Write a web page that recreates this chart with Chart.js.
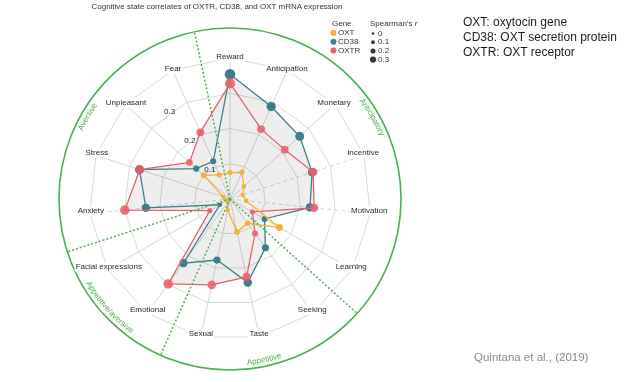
<!DOCTYPE html>
<html><head><meta charset="utf-8">
<script src="https://cdn.jsdelivr.net/npm/chart.js@4/dist/chart.umd.min.js"></script>
<style>
html,body{margin:0;padding:0;background:#fff;width:634px;height:382px;overflow:hidden;}
#wrap{position:relative;width:634px;height:382px;}
canvas{position:absolute;left:0;top:0;}
.txt{position:absolute;font-family:"Liberation Sans",Arial,sans-serif;white-space:nowrap;}
</style></head>
<body>
<div id="wrap">
<canvas id="c" width="634" height="382"></canvas>
<div class="txt" style="left:0;width:434px;text-align:center;top:2px;font-size:8px;line-height:10px;color:#333;">Cognitive state correlates of OXTR, CD38, and OXT mRNA expression</div>
<div class="txt" style="left:463px;top:15px;font-size:12px;line-height:15px;color:#1e1e1e;">OXT: oxytocin gene<br>CD38: OXT secretion protein<br>OXTR: OXT receptor</div>
<div class="txt" style="left:474px;top:350px;font-size:11.5px;line-height:14px;color:#8a8a8a;">Quintana et al., (2019)</div>
</div>
<script>
const categories = ["Reward","Anticipation","Monetary","Incentive","Motivation","Learning","Seeking","Taste","Sexual","Emotional","Facial expressions","Anxiety","Stress","Unpleasant","Fear"];
const oxtValues  = [0.075,0.083,0.053,0.038,0.046,0.162,0.085,0.096,0.032,0.010,0.010,0.014,0.020,0.100,0.075];
const cd38Values = [0.354,0.287,0.266,0.245,0.228,0.113,0.171,0.242,0.177,0.225,0.033,0.240,0.270,0.129,0.117];
const oxtrValues = [0.328,0.217,0.209,0.248,0.240,0.073,0.121,0.226,0.249,0.298,0.066,0.300,0.269,0.155,0.207];
const radialTickValues = [0.1,0.2,0.3];
const legendSizeValues = [0,0.1,0.2,0.3];
const sectorNames  = ["Anticipatory","Appetitive","Appetitive/aversive","Aversive"];
const sectorBounds = [-0.5,5.5,8.5,10.5,14.5]; // category-index units
const dashedSpokes = [3,4,11];

const COLORS = {OXT:'#f2b13a', CD38:'#3e7e8b', OXTR:'#e8606c'};
const GREEN = '#4caf50';
const FONT = '"Liberation Sans", Arial, sans-serif';

function ptRadius(v){ return 1.9 + 9.6*Math.abs(v); }
function legRadius(v){ return 1.3 + 6*Math.abs(v); }

function makeDs(label, data, color, ptColor){
  return {label, data, borderColor: color, backgroundColor: color,
    pointBackgroundColor: ptColor||color, pointBorderColor: ptColor||color, pointBorderWidth: 0,
    borderWidth: 1.3, fill: false,
    pointRadius: c => ptRadius(c.raw), pointHoverRadius: c => ptRadius(c.raw)};
}

function idxAngle(f){ return f*2*Math.PI/categories.length - Math.PI/2; }

function arcText(ctx, text, cx, cy, r, ang, flip){
  const total = ctx.measureText(text).width / r;
  let a = flip ? ang + total/2 : ang - total/2;
  for (const ch of text){
    const w = ctx.measureText(ch).width / r;
    const mid = flip ? a - w/2 : a + w/2;
    ctx.save();
    ctx.translate(cx + r*Math.cos(mid), cy + r*Math.sin(mid));
    ctx.rotate(flip ? mid - Math.PI/2 : mid + Math.PI/2);
    ctx.fillText(ch, 0, 0);
    ctx.restore();
    a = flip ? a - w : a + w;
  }
}

const decor = {
  id: 'decor',
  beforeDatasetsDraw(chart){
    const ctx = chart.ctx;
    ctx.save();
    ctx.beginPath();
    [1,2].forEach(di => {
      const pts = chart.getDatasetMeta(di).data;
      pts.forEach((p,i) => i ? ctx.lineTo(p.x,p.y) : ctx.moveTo(p.x,p.y));
      ctx.closePath();
    });
    ctx.fillStyle = 'rgba(0,0,0,0.065)';
    ctx.fill('nonzero');
    ctx.restore();
  },
  afterDatasetsDraw(chart){
    const ctx = chart.ctx, s = chart.scales.r;
    const cx = s.xCenter, cy = s.yCenter, R = s.drawingArea;
    const outerR = R*1.213;
    ctx.save();
    // green dotted dividers
    ctx.strokeStyle = GREEN; ctx.lineWidth = 1.5; ctx.setLineDash([2,2]);
    sectorBounds.slice(1).forEach(b => {
      const a = idxAngle(b);
      ctx.beginPath(); ctx.moveTo(cx,cy); ctx.lineTo(cx+outerR*Math.cos(a), cy+outerR*Math.sin(a)); ctx.stroke();
    });
    ctx.setLineDash([]);
    ctx.lineWidth = 1.6;
    ctx.beginPath(); ctx.arc(cx,cy,outerR,0,Math.PI*2); ctx.stroke();
    // sector labels
    ctx.fillStyle = GREEN; ctx.font = '8px '+FONT; ctx.textAlign='center'; ctx.textBaseline='middle';
    sectorNames.forEach((n,i) => {
      const a = idxAngle((sectorBounds[i]+sectorBounds[i+1])/2);
      const norm = ((a % (2*Math.PI)) + 2*Math.PI) % (2*Math.PI);
      const flip = norm > 0 && norm < Math.PI;
      arcText(ctx, n, cx, cy, outerR - 6.5, a, flip);
    });
    // category labels
    ctx.font = '8px '+FONT; ctx.textAlign='center'; ctx.textBaseline='middle';
    categories.forEach((lab,i) => {
      const p = s.getPointPosition(i, R - 1);
      const w = ctx.measureText(lab).width;
      ctx.fillStyle = '#fff';
      ctx.fillRect(p.x - w/2 - 1, p.y - 2.5 - 5, w + 2, 10);
      ctx.fillStyle = '#2a2a2a';
      ctx.fillText(lab, p.x, p.y - 2.5);
    });
    // radial tick labels
    ctx.font = '8px '+FONT; ctx.fillStyle = '#222';
    radialTickValues.forEach(v => {
      const d = s.getDistanceFromCenterForValue(v);
      const a = idxAngle(13.55);
      ctx.fillText(String(v), cx + d*Math.cos(a), cy + d*Math.sin(a));
    });
    ctx.restore();
  },
  afterDraw(chart){
    const ctx = chart.ctx;
    ctx.save();
    ctx.font = '8px '+FONT; ctx.textBaseline = 'middle'; ctx.textAlign='left';
    ctx.fillStyle = '#333';
    ctx.fillText('Gene', 332, 24);
    ctx.fillText("Spearman's ", 370, 24);
    const sw = ctx.measureText("Spearman's ").width;
    ctx.font = 'italic 8px '+FONT; ctx.fillText('r', 370+sw, 24);
    ctx.font = '8px '+FONT;
    const genes = [['OXT',COLORS.OXT],['CD38',COLORS.CD38],['OXTR',COLORS.OXTR]];
    genes.forEach((g,i) => {
      const y = 33 + i*8.8;
      ctx.fillStyle = g[1]; ctx.beginPath(); ctx.arc(333.5, y, 3, 0, Math.PI*2); ctx.fill();
      ctx.fillStyle = '#333'; ctx.fillText(g[0], 338, y);
    });
    legendSizeValues.forEach((v,i) => {
      const y = 33.5 + i*8.7;
      ctx.fillStyle = '#333'; ctx.beginPath(); ctx.arc(373, y, legRadius(v), 0, Math.PI*2); ctx.fill();
      ctx.fillText(String(v), 378, y);
    });
    ctx.restore();
  }
};

new Chart(document.getElementById('c'), {
  type: 'radar',
  data: {
    labels: categories,
    datasets: [
      makeDs('OXT', oxtValues, COLORS.OXT),
      makeDs('OXTR', oxtrValues, COLORS.OXTR, 'rgba(232,96,108,0.88)'),
      makeDs('CD38', cd38Values, COLORS.CD38)
    ]
  },
  options: {
    responsive: false, animation: false, events: [],
    layout: {padding: {left: 89, right: 263, top: 58, bottom: 42}},
    plugins: {legend: {display: false}, tooltip: {enabled: false}, title: {display: false}},
    elements: {line: {tension: 0}},
    scales: {
      r: {
        min: 0, max: 0.4,
        ticks: {display: false, stepSize: 0.1},
        grid: {color: '#d9d9d9', lineWidth: 1},
        angleLines: {color: '#d4d4d4', lineWidth: 1, borderDash: c => dashedSpokes.includes(c.index) ? [4,3] : []},
        pointLabels: {display: false}
      }
    }
  },
  plugins: [decor]
});
</script>
</body></html>
